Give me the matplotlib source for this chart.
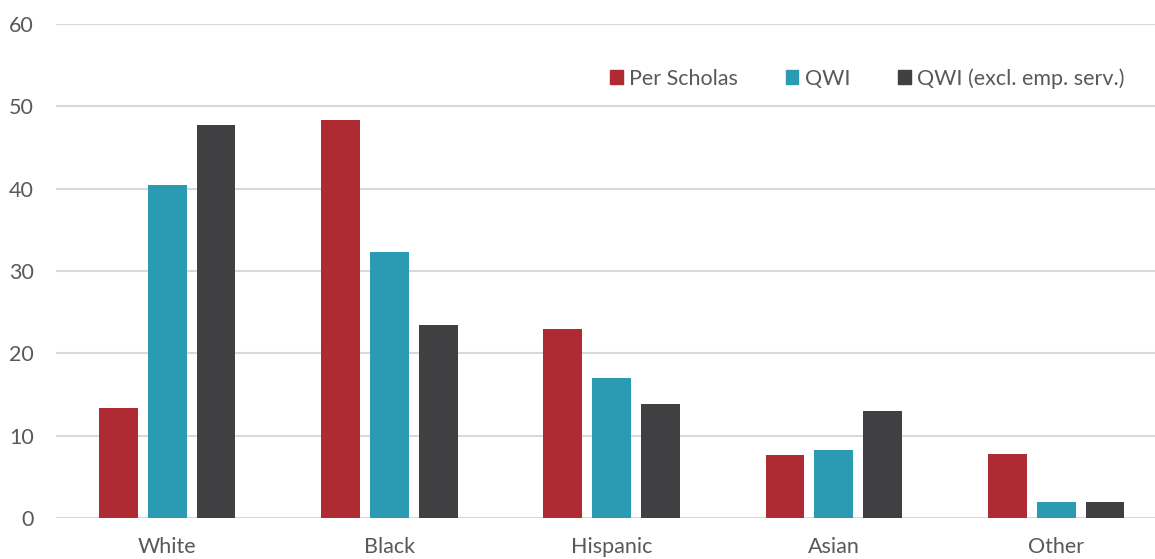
import numpy as np
import matplotlib.pyplot as plt
from matplotlib.patches import Patch

categories = ["White", "Black", "Hispanic", "Asian", "Other"]
series_names = ["Per Scholas", "QWI", "QWI (excl. emp. serv.)"]
per_scholas = [13.3, 48.3, 23.0, 7.6, 7.8]
qwi = [40.5, 32.3, 17.0, 8.3, 1.9]
qwi_excl = [47.7, 23.4, 13.9, 13.0, 2.0]
colors = ["#AE2B33", "#2B9BB4", "#404042"]
yticks = [0, 10, 20, 30, 40, 50, 60]

plt.rcParams["font.family"] = ["Lato", "DejaVu Sans"]
text_color = "#595959"

fig = plt.figure(figsize=(11.55, 5.59), dpi=100)
ax = fig.add_axes([56 / 1155, 41 / 559, 1099 / 1155, 494 / 559])

x = np.arange(len(categories))
width = 0.175
step = 0.22
for i, (vals, c) in enumerate(zip([per_scholas, qwi, qwi_excl], colors)):
    ax.bar(x + (i - 1) * step, vals, width, color=c, zorder=3)

ax.set_ylim(0, 60)
ax.set_xlim(-0.5, 4.445)
ax.set_yticks(yticks)
ax.set_xticks(x)
ax.set_xticklabels(categories)
ax.yaxis.grid(True, color="#D9D9D9", linewidth=1.5, zorder=0)
for s in ax.spines.values():
    s.set_visible(False)
ax.tick_params(length=0, labelsize=15.5, colors=text_color)
ax.tick_params(axis="x", pad=14)
ax.tick_params(axis="y", pad=16)

handles = [Patch(color=c) for c in colors]
leg = ax.legend(handles, series_names, loc="upper right", ncol=3, frameon=False,
                fontsize=15.5, handlelength=0.6, handleheight=0.6,
                handletextpad=0.3, columnspacing=2.2,
                bbox_to_anchor=(0.99, 0.95))
for t in leg.get_texts():
    t.set_color(text_color)

fig.savefig("out.png", dpi=100)
